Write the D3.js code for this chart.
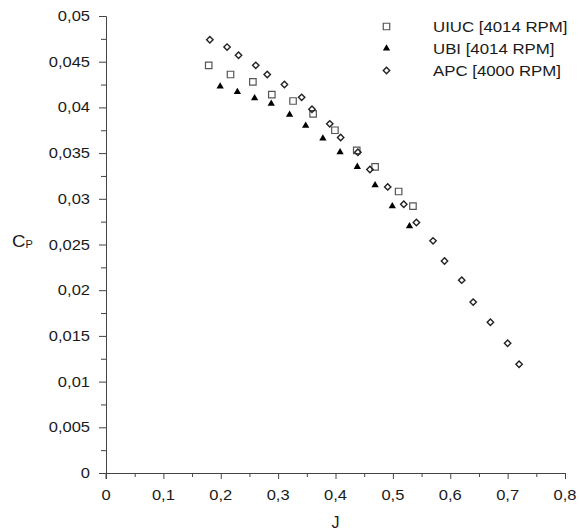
<!DOCTYPE html>
<html>
<head>
<meta charset="utf-8">
<script src="https://cdn.jsdelivr.net/npm/d3@7"></script>
<style>
  body { margin: 0; background: #fff; }
  text { font-family: "Liberation Sans", Arial, sans-serif; fill: #1a1a1a; }
</style>
</head>
<body>
<script>
// Data (J, Cp)
var uiucJ  = [0.179, 0.217, 0.256, 0.289, 0.326, 0.361, 0.399, 0.437, 0.469, 0.510, 0.535];
var uiucCp = [0.0446, 0.0436, 0.0428, 0.0414, 0.0407, 0.0393, 0.0375, 0.0353, 0.0335, 0.0308, 0.0292];

var ubiJ  = [0.199, 0.229, 0.259, 0.288, 0.320, 0.348, 0.378, 0.408, 0.438, 0.469, 0.499, 0.529];
var ubiCp = [0.0423, 0.0417, 0.0410, 0.0404, 0.0392, 0.0380, 0.0366, 0.0351, 0.0335, 0.0315, 0.0292, 0.0270];

var apcJ  = [0.181, 0.211, 0.231, 0.261, 0.281, 0.311, 0.341, 0.359, 0.390, 0.409, 0.439,
             0.460, 0.491, 0.519, 0.541, 0.570, 0.590, 0.620, 0.640, 0.670, 0.700, 0.720];
var apcCp = [0.0474, 0.0466, 0.0457, 0.0446, 0.0436, 0.0425, 0.0411, 0.0398, 0.0382, 0.0367, 0.0351,
             0.0332, 0.0313, 0.0294, 0.0274, 0.0254, 0.0232, 0.0211, 0.0187, 0.0165, 0.0142, 0.0119];

var legendNames = ["UIUC [4014 RPM]", "UBI [4014 RPM]", "APC [4000 RPM]"];
var xTicks = [0, 0.1, 0.2, 0.3, 0.4, 0.5, 0.6, 0.7, 0.8];
var yTicks = [0, 0.005, 0.01, 0.015, 0.02, 0.025, 0.03, 0.035, 0.04, 0.045, 0.05];

var WIDTH = 579, HEIGHT = 530;
var margin = {left: 106, right: 14, top: 16, bottom: 57};
var axisColor = "#444";
var sx = 1.18; // picture text is a bit stretched sideways

var svg = d3.select("body").append("svg").attr("width", WIDTH).attr("height", HEIGHT);

var x = d3.scaleLinear().domain([0, 0.8]).range([margin.left, WIDTH - margin.right]);
var y = d3.scaleLinear().domain([0, 0.05]).range([HEIGHT - margin.bottom, margin.top]);

function comma(v) { return String(+v.toFixed(4)).replace(".", ","); }

// minor ticks
var xMinor = d3.range(0.05, 0.8, 0.1);
var yMinor = d3.range(0.0025, 0.05, 0.005);

var gx = svg.append("g").attr("transform", "translate(0," + y(0) + ")");
gx.call(d3.axisBottom(x).tickValues(xTicks).tickSize(6).tickFormat(""));
gx.append("g").call(d3.axisBottom(x).tickValues(xMinor).tickSize(4).tickFormat(""))
  .select(".domain").remove();
gx.selectAll("line, path").attr("stroke", axisColor);

var gy = svg.append("g").attr("transform", "translate(" + x(0) + ",0)");
gy.call(d3.axisLeft(y).tickValues(yTicks).tickSize(7).tickFormat(""));
gy.append("g").call(d3.axisLeft(y).tickValues(yMinor).tickSize(5).tickFormat(""))
  .select(".domain").remove();
gy.selectAll("line, path").attr("stroke", axisColor);
// y axis line extends to the tick below x axis
svg.append("line").attr("x1", x(0)).attr("x2", x(0))
  .attr("y1", y(0)).attr("y2", y(0) + 6).attr("stroke", axisColor);

// tick labels
svg.selectAll(".xl").data(xTicks).enter().append("text")
  .attr("class", "xl")
  .attr("transform", function(d) { return "translate(" + x(d) + ",500) scale(" + sx + ",1)"; })
  .attr("text-anchor", "middle").attr("font-size", 14)
  .text(comma);

svg.selectAll(".yl").data(yTicks).enter().append("text")
  .attr("class", "yl")
  .attr("transform", function(d) { return "translate(90," + (y(d) + 5) + ") scale(" + sx + ",1)"; })
  .attr("text-anchor", "end").attr("font-size", 14)
  .text(comma);

// axis titles
svg.append("text").attr("x", (x(0) + x(0.8)) / 2).attr("y", 528)
  .attr("text-anchor", "middle").attr("font-size", 16).text("J");
var cp = svg.append("text").attr("transform", "translate(12,247) scale(1.1,1)").attr("font-size", 17);
cp.append("tspan").text("C");
cp.append("tspan").attr("font-size", 10).attr("dy", 1).text("P");

// markers
var sq = d3.symbol().type(d3.symbolSquare).size(42);
var tri = d3.symbol().type(d3.symbolTriangle).size(23);
var dia = function(cx, cy, r) {
  return "M" + cx + "," + (cy - r) + "L" + (cx + r) + "," + cy + "L" + cx + "," + (cy + r) + "L" + (cx - r) + "," + cy + "Z";
};

var uiuc = uiucJ.map(function(j, i) { return {j: j, cp: uiucCp[i]}; });
var ubi = ubiJ.map(function(j, i) { return {j: j, cp: ubiCp[i]}; });
var apc = apcJ.map(function(j, i) { return {j: j, cp: apcCp[i]}; });

svg.selectAll(".ubi").data(ubi).enter().append("path")
  .attr("class", "ubi")
  .attr("d", tri)
  .attr("transform", function(d) { return "translate(" + x(d.j) + "," + y(d.cp) + ")"; })
  .attr("fill", "#000");

svg.selectAll(".uiuc").data(uiuc).enter().append("path")
  .attr("class", "uiuc")
  .attr("d", sq)
  .attr("transform", function(d) { return "translate(" + x(d.j) + "," + y(d.cp) + ")"; })
  .attr("fill", "none").attr("stroke", "#555").attr("stroke-width", 1.2);

svg.selectAll(".apc").data(apc).enter().append("path")
  .attr("class", "apc")
  .attr("d", function(d) { return dia(x(d.j), y(d.cp), 3.2); })
  .attr("fill", "none").attr("stroke", "#222").attr("stroke-width", 1.4);

// legend
var legY = [26.5, 48.5, 70.5];
var lx = 386.5;
svg.append("path").attr("d", sq).attr("transform", "translate(" + lx + "," + legY[0] + ")")
  .attr("fill", "none").attr("stroke", "#555").attr("stroke-width", 1.2);
svg.append("path").attr("d", tri).attr("transform", "translate(" + lx + "," + legY[1] + ")")
  .attr("fill", "#000");
svg.append("path").attr("d", dia(lx, legY[2], 3.2))
  .attr("fill", "none").attr("stroke", "#222").attr("stroke-width", 1.4);

svg.selectAll(".leg").data(legendNames).enter().append("text")
  .attr("class", "leg")
  .attr("transform", function(d, i) { return "translate(433," + (legY[i] + 5.5) + ") scale(1.16,1)"; })
  .attr("font-size", 14.5)
  .text(function(d) { return d; });
</script>
</body>
</html>
